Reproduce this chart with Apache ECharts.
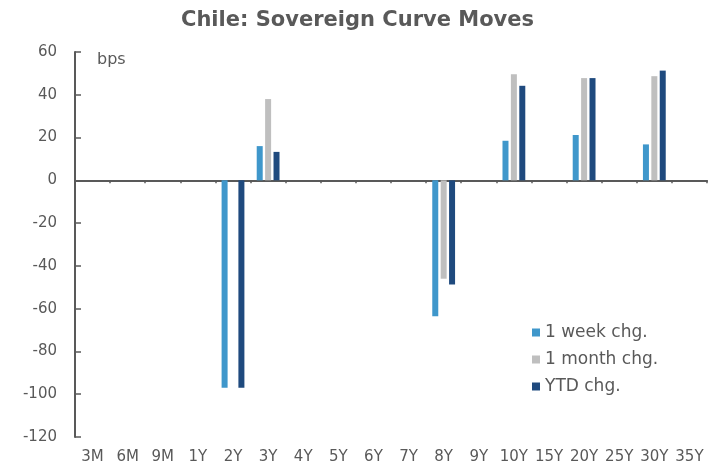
<!DOCTYPE html>
<html>
<head>
<meta charset="utf-8">
<script src="https://cdn.jsdelivr.net/npm/echarts@6/dist/echarts.min.js"></script>
<style>html,body{margin:0;padding:0;background:#fff}#c{width:715px;height:465px}</style>
</head>
<body>
<div id="c"></div>
<script>
var categories = ['3M','6M','9M','1Y','2Y','3Y','4Y','5Y','6Y','7Y','8Y','9Y','10Y','15Y','20Y','25Y','30Y','35Y'];
var weekChg  = [null,null,null,null,-97,16,null,null,null,null,-63.5,null,18.5,null,21.2,null,16.8,null];
var monthChg = [null,null,null,null,0,38,null,null,null,null,-46,null,49.6,null,47.8,null,48.7,null];
var ytdChg   = [null,null,null,null,-97,13.3,null,null,null,null,-48.7,null,44.2,null,47.8,null,51.3,null];
var seriesNames = ['1 week chg.','1 month chg.','YTD chg.'];
var colors = ['#3F97CB','#BFBFBF','#1F4A7E'];

var chart = echarts.init(document.getElementById('c'));
var txt = '#595959';
var font = 'DejaVu Sans, sans-serif';
function bar(name, data, color) {
  return {
    name: name, type: 'bar', data: data, xAxisIndex: 0,
    barWidth: 6, barGap: '40%',
    itemStyle: { color: color }
  };
}
chart.setOption({
  animation: false,
  textStyle: { fontFamily: font },
  title: {
    text: 'Chile: Sovereign Curve Moves', left: 'center', top: 5,
    textStyle: { color: txt, fontSize: 21, fontWeight: 'bold', fontFamily: font }
  },
  legend: {
    orient: 'vertical', left: 527, top: 319, itemWidth: 8, itemHeight: 8, itemGap: 10,
    icon: 'rect',
    textStyle: { color: txt, fontSize: 17, fontFamily: font }
  },
  graphic: [{
    type: 'text', left: 97, top: 52,
    style: { text: 'bps', fill: txt, font: '16px DejaVu Sans, sans-serif' }
  }],
  grid: { left: 75, right: 8, top: 52, bottom: 24, containLabel: false },
  xAxis: [{
    type: 'category', data: categories, position: 'bottom',
    axisLine: { onZero: true, lineStyle: { color: '#595959', width: 2 } },
    axisTick: { show: true, length: 3, lineStyle: { color: '#595959', width: 1.5 } },
    axisLabel: { show: false }
  }, {
    type: 'category', data: categories, position: 'bottom',
    axisLine: { show: false }, axisTick: { show: false },
    axisLabel: { color: txt, fontSize: 15, margin: 13, interval: 0, fontFamily: font }
  }],
  yAxis: {
    type: 'value', min: -120, max: 60, interval: 20,
    axisLine: { show: true, lineStyle: { color: '#595959', width: 2 } },
    axisTick: { show: true, inside: true, length: 6, lineStyle: { color: '#595959', width: 1.5 } },
    axisLabel: { color: txt, fontSize: 15, margin: 18, fontFamily: font },
    splitLine: { show: false }
  },
  series: [
    bar(seriesNames[0], weekChg, colors[0]),
    bar(seriesNames[1], monthChg, colors[1]),
    bar(seriesNames[2], ytdChg, colors[2])
  ]
});
</script>
</body>
</html>
